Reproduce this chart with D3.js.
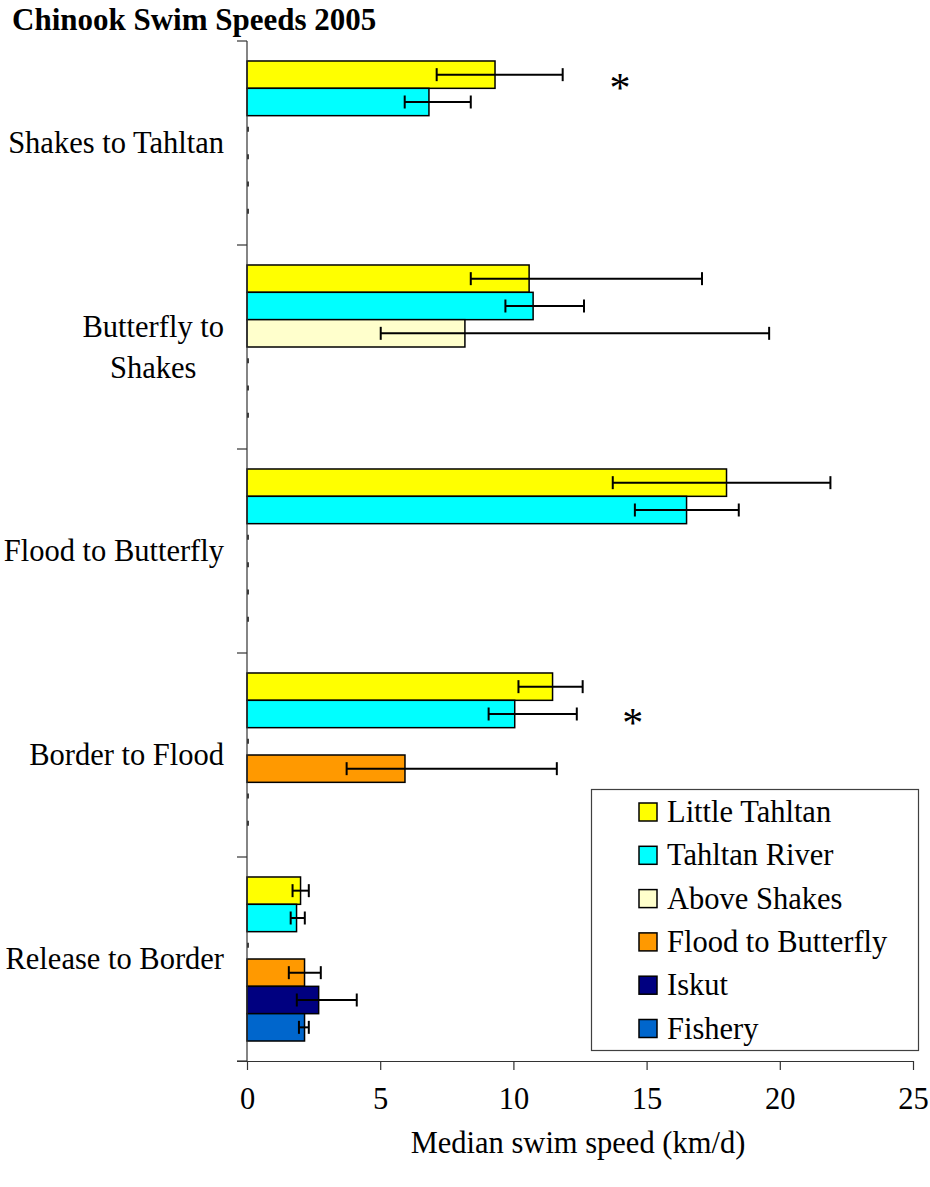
<!DOCTYPE html>
<html>
<head>
<meta charset="utf-8">
<script src="https://cdn.jsdelivr.net/npm/d3@7"></script>
<style>
  body { margin: 0; background: #fff; }
  svg { display: block; }
  text { font-family: "Liberation Serif", "Times New Roman", serif; fill: #000; }
</style>
</head>
<body>
<svg id="chart" width="930" height="1187"></svg>
<script>
// River segments, listed top to bottom as drawn
const categories = ["Shakes to Tahltan", "Butterfly to Shakes", "Flood to Butterfly", "Border to Flood", "Release to Border"];

// Stock groups (legend order = order of bars inside each segment)
const seriesNames = ["Little Tahltan", "Tahltan River", "Above Shakes", "Flood to Butterfly", "Iskut", "Fishery"];
const seriesColors = ["#FFFF00", "#00FFFF", "#FFFFCC", "#FF9900", "#000080", "#0066CC"];

// Median swim speed (km/d) per segment; null = group not present in that segment
const littleTahltan    = [9.31, 10.59, 18.00, 11.47, 2.01];
const tahltanRiver     = [6.83, 10.74, 16.50, 10.05, 1.86];
const aboveShakes      = [null, 8.18, null, null, null];
const floodToButterfly = [null, null, null, 5.93, 2.16];
const iskut            = [null, null, null, null, 2.69];
const fishery          = [null, null, null, null, 2.16];

// Error bar ranges (low, high) per segment
const littleTahltanRange    = [[7.12, 11.85], [8.40, 17.08], [13.73, 21.90], [10.19, 12.60], [1.71, 2.32]];
const tahltanRiverRange     = [[5.92, 8.40], [9.70, 12.65], [14.56, 18.46], [9.07, 12.38], [1.64, 2.17]];
const aboveShakesRange      = [null, [5.02, 19.60], null, null, null];
const floodToButterflyRange = [null, null, null, [3.74, 11.63], [1.57, 2.77]];
const iskutRange            = [null, null, null, null, [1.87, 4.12]];
const fisheryRange          = [null, null, null, null, [1.95, 2.32]];

const xTicks = [0, 5, 10, 15, 20, 25];

// Significance markers: segment, speed position, offset in bar slots from the group top
const sigMarks = [
  { category: "Shakes to Tahltan", x: 14.0, slot: 0.8 },
  { category: "Border to Flood", x: 14.48, slot: 1.65 }
];

const seriesValues = [littleTahltan, tahltanRiver, aboveShakes, floodToButterfly, iskut, fishery];
const seriesRanges = [littleTahltanRange, tahltanRiverRange, aboveShakesRange, floodToButterflyRange, iskutRange, fisheryRange];

const svg = d3.select("#chart");
const FONT = 30.5;

const x = d3.scaleLinear().domain([0, 25]).range([247, 913]);
const y = d3.scaleBand().domain(categories).range([41, 1061]).paddingInner(0).paddingOuter(0);
const groupPad = y.bandwidth() * 0.098;
const ySub = d3.scaleBand().domain(seriesNames).range([groupPad, y.bandwidth() - groupPad]).padding(0);

// flattened records
const records = [];
categories.forEach((c, ci) => {
  seriesNames.forEach((s, si) => {
    records.push({
      category: c, series: s, color: seriesColors[si],
      value: seriesValues[si][ci], range: seriesRanges[si][ci]
    });
  });
});

const plot = svg.append("g");

// bars
plot.selectAll("rect.bar")
  .data(records.filter(d => d.value != null))
  .join("rect")
  .attr("class", "bar")
  .attr("x", x(0))
  .attr("y", d => y(d.category) + ySub(d.series))
  .attr("width", d => x(d.value) - x(0))
  .attr("height", ySub.bandwidth())
  .attr("fill", d => d.color)
  .attr("stroke", "#000")
  .attr("stroke-width", 1.5);

// collapsed outlines of empty slots
plot.selectAll("line.empty")
  .data(records.filter(d => d.value == null))
  .join("line")
  .attr("class", "empty")
  .attr("x1", x(0) + 1).attr("x2", x(0) + 1)
  .attr("y1", d => y(d.category) + ySub(d.series) + ySub.bandwidth() / 2 - 2.5)
  .attr("y2", d => y(d.category) + ySub(d.series) + ySub.bandwidth() / 2 + 2.5)
  .attr("stroke", "#000")
  .attr("stroke-width", 1.5);

// error bars
const errs = plot.selectAll("g.err")
  .data(records.filter(d => d.range))
  .join("g")
  .attr("class", "err")
  .attr("transform", d => `translate(0,${y(d.category) + ySub(d.series) + ySub.bandwidth() / 2})`);
errs.append("line")
  .attr("x1", d => x(d.range[0])).attr("x2", d => x(d.range[1]))
  .attr("y1", 0).attr("y2", 0)
  .attr("stroke", "#000").attr("stroke-width", 2);
errs.selectAll("line.cap")
  .data(d => d.range)
  .join("line")
  .attr("class", "cap")
  .attr("x1", v => x(v)).attr("x2", v => x(v))
  .attr("y1", -6.5).attr("y2", 6.5)
  .attr("stroke", "#000").attr("stroke-width", 2);

// significance asterisks
svg.selectAll("text.sig")
  .data(sigMarks)
  .join("text")
  .attr("class", "sig")
  .attr("x", d => x(d.x))
  .attr("y", d => y(d.category) + groupPad + d.slot * ySub.step() + 19)
  .attr("text-anchor", "middle")
  .style("font-size", "42px")
  .text("*");

// y axis: line plus boundary ticks between segments
const axisColor = "#333";
svg.append("line")
  .attr("x1", x(0)).attr("x2", x(0))
  .attr("y1", y.range()[0]).attr("y2", y.range()[1])
  .attr("stroke", axisColor).attr("stroke-width", 1.2);
const bounds = categories.map(c => y(c)).concat([y.range()[1]]);
svg.selectAll("line.ytick")
  .data(bounds)
  .join("line")
  .attr("class", "ytick")
  .attr("x1", x(0) - 10).attr("x2", x(0))
  .attr("y1", d => d).attr("y2", d => d)
  .attr("stroke", axisColor).attr("stroke-width", 1.2);

// category labels, wrapped when too wide
const labelRight = 224;
const maxLabelWidth = 228;
const lineGap = 41;
categories.forEach(c => {
  const cy = y(c) + y.bandwidth() / 2;
  const probe = svg.append("text").style("font-size", FONT + "px").text(c);
  const full = probe.node().getComputedTextLength();
  probe.remove();
  if (full <= maxLabelWidth) {
    svg.append("text")
      .attr("x", labelRight).attr("y", cy + 10)
      .attr("text-anchor", "end")
      .style("font-size", FONT + "px")
      .text(c);
  } else {
    const words = c.split(" ");
    const lines = [];
    let cur = [];
    const t = svg.append("text").style("font-size", FONT + "px");
    words.forEach(w => {
      const trial = cur.concat([w]).join(" ");
      t.text(trial);
      if (t.node().getComputedTextLength() > maxLabelWidth * 0.75 && cur.length) {
        lines.push(cur.join(" "));
        cur = [w];
      } else cur.push(w);
    });
    lines.push(cur.join(" "));
    let widest = 0;
    lines.forEach(l => { t.text(l); widest = Math.max(widest, t.node().getComputedTextLength()); });
    t.remove();
    const cx = labelRight - widest / 2;
    lines.forEach((l, i) => {
      svg.append("text")
        .attr("x", cx)
        .attr("y", cy + 10 + (i - (lines.length - 1) / 2) * lineGap)
        .attr("text-anchor", "middle")
        .style("font-size", FONT + "px")
        .text(l);
    });
  }
});

// x axis
const xAxis = svg.append("g")
  .attr("transform", `translate(0,${y.range()[1]})`)
  .call(d3.axisBottom(x).tickValues(xTicks).tickSize(9).tickPadding(17).tickFormat(d3.format("d")));
xAxis.select(".domain").attr("stroke", axisColor).attr("stroke-width", 1.2)
  .attr("d", `M${x(0) - 10},0.5H${x(25)}`);
xAxis.selectAll(".tick line").attr("stroke", axisColor).attr("stroke-width", 1.2);
xAxis.selectAll(".tick text")
  .style("font-family", '"Liberation Serif", "Times New Roman", serif')
  .style("font-size", FONT + "px")
  .attr("fill", "#000");

// axis title
svg.append("text")
  .attr("x", 578).attr("y", 1153)
  .attr("text-anchor", "middle")
  .style("font-size", FONT + "px")
  .text("Median swim speed (km/d)");

// chart title
svg.append("text")
  .attr("x", 12).attr("y", 30)
  .style("font-size", "31px")
  .style("font-weight", "bold")
  .text("Chinook Swim Speeds 2005");

// legend
const legend = svg.append("g");
legend.append("rect")
  .attr("x", 591.5).attr("y", 789.5)
  .attr("width", 327).attr("height", 261)
  .attr("fill", "#fff")
  .attr("stroke", "#404040").attr("stroke-width", 1.2);
const items = legend.selectAll("g.item")
  .data(seriesNames)
  .join("g")
  .attr("class", "item")
  .attr("transform", (d, i) => `translate(0,${822 + i * 43.3})`);
items.append("rect")
  .attr("x", 639).attr("y", -19)
  .attr("width", 18).attr("height", 18)
  .attr("fill", (d, i) => seriesColors[i])
  .attr("stroke", "#000").attr("stroke-width", 1.5);
items.append("text")
  .attr("x", 667).attr("y", 0)
  .style("font-size", FONT + "px")
  .text(d => d);
</script>
</body>
</html>
